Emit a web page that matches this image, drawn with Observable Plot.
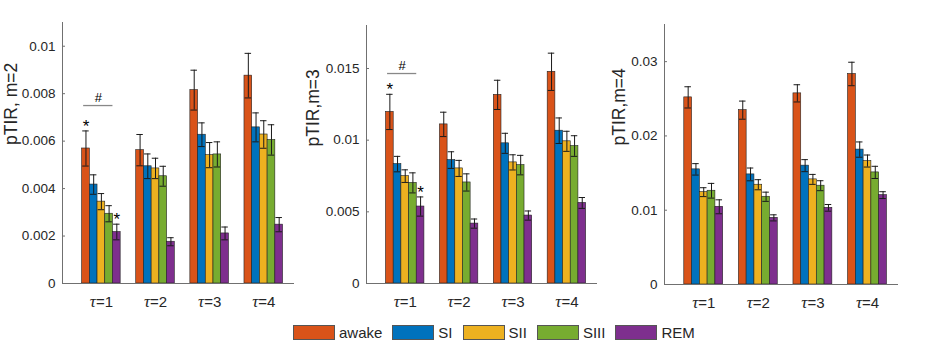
<!DOCTYPE html>
<html>
<head>
<meta charset="utf-8">
<script src="https://cdn.jsdelivr.net/npm/d3@7"></script>
<script src="https://cdn.jsdelivr.net/npm/@observablehq/plot@0.6"></script>
<style>
  html, body { margin: 0; padding: 0; background: #fff; }
  #wrap { position: relative; width: 926px; height: 349px; overflow: hidden; font-family: "Liberation Sans", Arial, sans-serif; color: #262626; }
  #wrap svg { position: absolute; top: 0; }
  #legend { position: absolute; top: 325px; left: 293px; display: flex; align-items: center; font-size: 15px; line-height: 15px; }
  .item { display: flex; align-items: center; margin-right: 10px; }
  .sw { width: 40px; height: 13px; border: 1px solid #555; margin-right: 4px; }
</style>
</head>
<body>
<div id="wrap"><div id="legend"></div></div>
<script>
const taus = [1, 2, 3, 4];
const series = ["awake", "SI", "SII", "SIII", "REM"];
const colors = ["#D95319", "#0072BD", "#EDB120", "#77AC30", "#7E2F8E"];

// rows: tau = 1..4, columns: awake, SI, SII, SIII, REM
const m2Mean = [
  [0.00569, 0.00417, 0.00345, 0.00294, 0.00217],
  [0.00562, 0.00494, 0.00485, 0.00452, 0.00176],
  [0.00815, 0.00627, 0.00541, 0.00544, 0.00211],
  [0.00876, 0.00658, 0.00628, 0.00605, 0.00248]];
const m2Err = [
  [0.00074, 0.00041, 0.00034, 0.00034, 0.00033],
  [0.00066, 0.00052, 0.00043, 0.00042, 0.00017],
  [0.00084, 0.00050, 0.00053, 0.00053, 0.00027],
  [0.00094, 0.00061, 0.00058, 0.00064, 0.00030]];
const m3Mean = [
  [0.01197, 0.00833, 0.00749, 0.00702, 0.00537],
  [0.01110, 0.00861, 0.00803, 0.00705, 0.00418],
  [0.01316, 0.00978, 0.00845, 0.00826, 0.00474],
  [0.01477, 0.01066, 0.00992, 0.00959, 0.00562]];
const m3Err = [
  [0.00123, 0.00054, 0.00044, 0.00070, 0.00067],
  [0.00085, 0.00058, 0.00056, 0.00060, 0.00032],
  [0.00102, 0.00070, 0.00053, 0.00068, 0.00032],
  [0.00130, 0.00089, 0.00070, 0.00072, 0.00038]];
const m4Mean = [
  [0.02519, 0.01550, 0.01243, 0.01262, 0.01046],
  [0.02347, 0.01482, 0.01343, 0.01181, 0.00897],
  [0.02573, 0.01600, 0.01415, 0.01330, 0.01032],
  [0.02834, 0.01816, 0.01662, 0.01509, 0.01203]];
const m4Err = [
  [0.00143, 0.00077, 0.00060, 0.00099, 0.00094],
  [0.00122, 0.00086, 0.00068, 0.00062, 0.00041],
  [0.00116, 0.00081, 0.00067, 0.00067, 0.00045],
  [0.00158, 0.00103, 0.00081, 0.00082, 0.00046]];

const yLabels = ["pTIR, m=2", "pTIR,m=3", "pTIR,m=4"];
const yDomains = [[0, 0.011], [0, 0.018], [0, 0.035]];
const yTicks = [
  [0, 0.002, 0.004, 0.006, 0.008, 0.01],
  [0, 0.005, 0.01, 0.015],
  [0, 0.01, 0.02, 0.03]];

// significance marks (panel index, tau, series)
const stars = [
  {panel: 0, tau: 1, series: "awake"}, {panel: 0, tau: 1, series: "REM"},
  {panel: 1, tau: 1, series: "awake"}, {panel: 1, tau: 1, series: "REM"}];
const hashLines = [
  {panel: 0, tau: 1, from: "awake", to: "SIII", level: 0.0075},
  {panel: 1, tau: 1, from: "awake", to: "SIII", level: 0.01465}];

const xDomain = [0.2815, 4.568];
const bw = 0.1425;
const layout = [
  {left: 0, width: 300, ml: 62, mr: 6, mt: 22, mb: 37, ldx: -51, ldy: -8},
  {left: 300, width: 306, ml: 66, mr: 9, mt: 25, mb: 37, ldx: -53, ldy: -8},
  {left: 606, width: 320, ml: 58, mr: 28, mt: 24, mb: 36, ldx: -45, ldy: -9}];

const means = [m2Mean, m3Mean, m4Mean];
const errs = [m2Err, m3Err, m4Err];
const fmt = d => String(+d.toFixed(6));
const center = (tau, s) => tau + (series.indexOf(s) - 2) * bw;

const wrap = document.getElementById("wrap");

means.forEach((M, p) => {
  const E = errs[p];
  const L = layout[p];
  const data = [];
  taus.forEach((t, i) => series.forEach((s, j) => data.push({tau: t, series: s, k: j, mean: M[i][j], err: E[i][j]})));
  const lookup = (tau, s) => data.find(d => d.tau === tau && d.series === s);
  const st = stars.filter(d => d.panel === p).map(d => ({...d, top: lookup(d.tau, d.series).mean + lookup(d.tau, d.series).err}));
  const hl = hashLines.filter(d => d.panel === p);

  const chart = Plot.plot({
    width: L.width, height: 320,
    marginLeft: L.ml, marginRight: L.mr, marginTop: L.mt, marginBottom: L.mb,
    style: {fontFamily: "'Liberation Sans', Arial, sans-serif", fontSize: "13px", color: "#262626", background: "transparent", overflow: "visible"},
    x: {type: "linear", domain: xDomain},
    y: {domain: yDomains[p]},
    color: {domain: series, range: colors},
    marks: [
      Plot.rectY(data, {x1: d => d.tau + (d.k - 2.5) * bw, x2: d => d.tau + (d.k - 1.5) * bw, y: "mean", fill: "series", stroke: "#222", strokeWidth: 0.6}),
      Plot.ruleX(data, {x: d => center(d.tau, d.series), y1: d => d.mean - d.err, y2: d => d.mean + d.err, stroke: "#1a1a1a", strokeWidth: 1}),
      Plot.ruleY(data, {y: d => d.mean + d.err, x1: d => center(d.tau, d.series) - bw * 0.42, x2: d => center(d.tau, d.series) + bw * 0.42, stroke: "#1a1a1a", strokeWidth: 1}),
      Plot.ruleY(data, {y: d => d.mean - d.err, x1: d => center(d.tau, d.series) - bw * 0.42, x2: d => center(d.tau, d.series) + bw * 0.42, stroke: "#1a1a1a", strokeWidth: 1}),
      Plot.ruleY([0], {stroke: "#707070", strokeWidth: 1}),
      Plot.ruleX([xDomain[0]], {stroke: "#707070", strokeWidth: 1}),
      Plot.axisY({ticks: yTicks[p], tickFormat: fmt, tickSize: 0, tickPadding: 7, label: null, fontSize: 13.5}),
      Plot.axisY({ticks: yTicks[p], text: null, tickSize: 3, dx: 3, label: null, stroke: "#707070"}),
      Plot.axisX({ticks: taus, tickFormat: d => "τ=" + d, tickSize: 0, tickPadding: 13, label: null, fontSize: 15}),
      Plot.text([yLabels[p]], {text: d => d, frameAnchor: "left", rotate: -90, dx: L.ldx, dy: L.ldy, fontSize: 17.5}),
      Plot.text(st, {x: d => center(d.tau, d.series), y: "top", text: () => "*", lineAnchor: "bottom", dy: 1, fontSize: 17, fill: "#000"}),
      Plot.ruleY(hl, {y: "level", x1: d => center(d.tau, d.from) - 0.3 * bw, x2: d => center(d.tau, d.to) + 0.5 * bw, stroke: "#888", strokeWidth: 1.3}),
      Plot.text(hl, {x: d => (center(d.tau, d.from) - 0.3 * bw + center(d.tau, d.to) + 0.5 * bw) / 2, y: "level", text: () => "#", lineAnchor: "bottom", dy: -4, fontSize: 13, fill: "#000"})
    ]
  });
  chart.style.left = L.left + "px";
  chart.querySelectorAll('g[aria-label="x-axis tick label"] text').forEach(t => {
    const rest = t.textContent.replace("τ", "");
    t.textContent = "";
    const ns = "http://www.w3.org/2000/svg";
    const a = document.createElementNS(ns, "tspan");
    a.setAttribute("font-style", "italic");
    a.setAttribute("font-family", "'Liberation Serif', 'Times New Roman', serif");
    a.setAttribute("font-size", "17");
    a.textContent = "τ";
    t.appendChild(a);
    t.appendChild(document.createTextNode(rest));
  });
  wrap.appendChild(chart);
});

const legend = document.getElementById("legend");
series.forEach((s, i) => {
  const it = document.createElement("div");
  it.className = "item";
  const sw = document.createElement("div");
  sw.className = "sw";
  sw.style.background = colors[i];
  const lab = document.createElement("span");
  lab.textContent = s;
  it.appendChild(sw); it.appendChild(lab);
  legend.appendChild(it);
});
</script>
</body>
</html>
